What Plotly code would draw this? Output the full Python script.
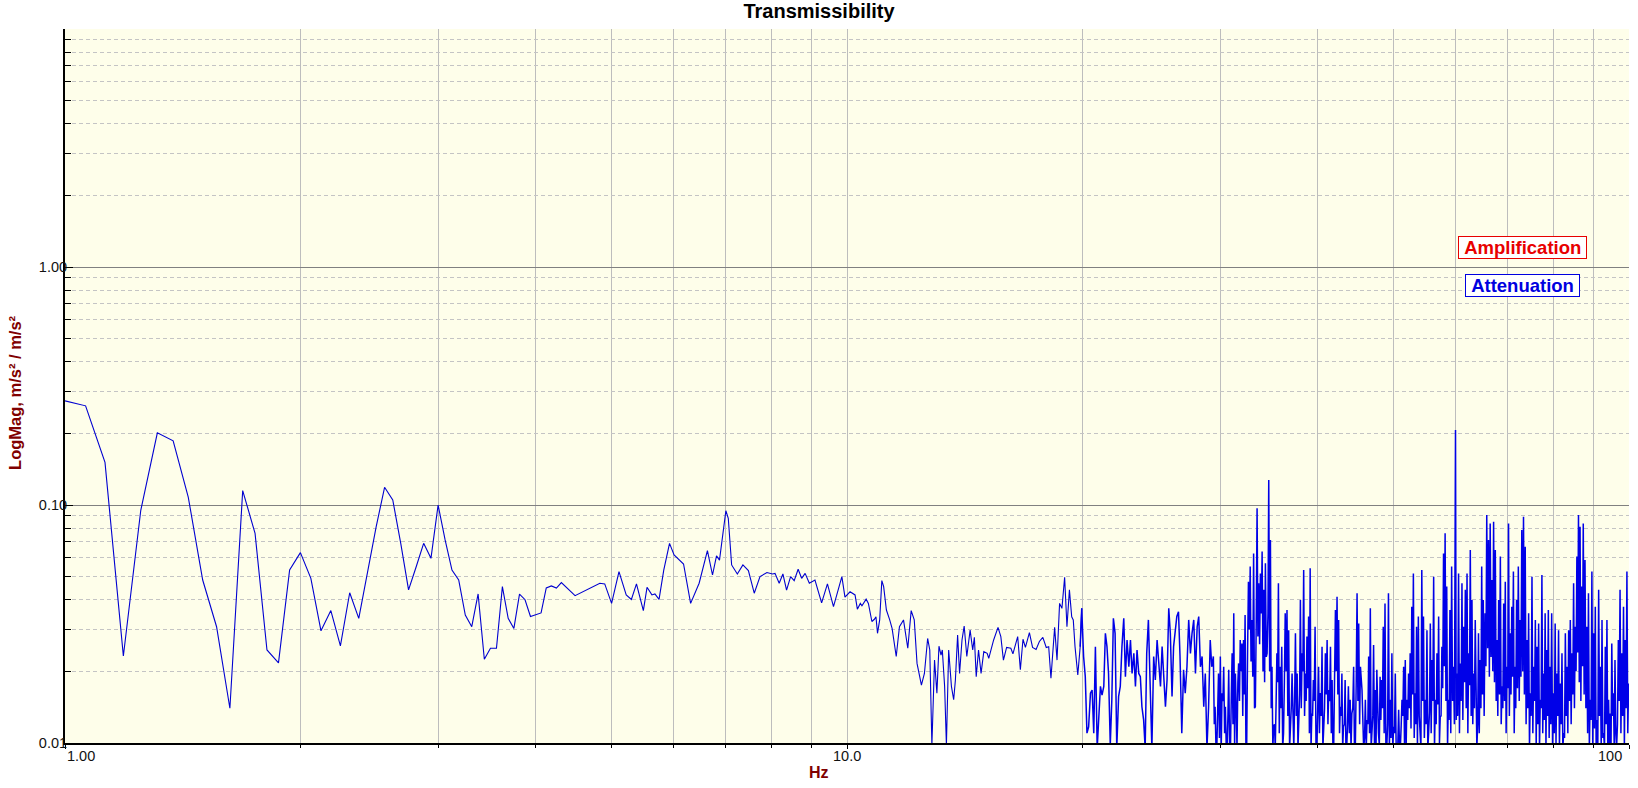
import plotly.graph_objects as go

# ---------------- data ----------------
# 1 - 4.3 Hz, FFT bins of 0.0625 Hz
freq_a = [1.0, 1.0625, 1.125, 1.1875, 1.25, 1.3125, 1.375, 1.4375, 1.5, 1.5625,
          1.625, 1.6875, 1.75, 1.8125, 1.875, 1.9375, 2.0, 2.0625, 2.125, 2.1875,
          2.25, 2.3125, 2.375, 2.4375, 2.5, 2.5625, 2.625, 2.6875, 2.75, 2.8125,
          2.875, 2.9375, 3.0, 3.0625, 3.125, 3.1875, 3.25, 3.3125, 3.375, 3.4375,
          3.5, 3.5625, 3.625, 3.6875, 3.75, 3.8125, 3.875, 3.9375, 4.0, 4.0625,
          4.125, 4.1875, 4.25, 4.3125]
mag_a = [0.274, 0.261, 0.151, 0.0232, 0.095, 0.201, 0.186, 0.108, 0.0484, 0.0308,
         0.0140, 0.115, 0.076, 0.0246, 0.0217, 0.0533, 0.0631, 0.0492, 0.0296, 0.0360,
         0.0256, 0.0428, 0.0334, 0.0533, 0.0811, 0.1187, 0.105, 0.069, 0.044, 0.055,
         0.069, 0.0597, 0.100, 0.0713, 0.0533, 0.0484, 0.0345, 0.0308, 0.0423, 0.0225,
         0.025, 0.025, 0.0454, 0.0334, 0.0303, 0.0422, 0.040, 0.034, 0.0347, 0.0352,
         0.0448, 0.0457, 0.0448, 0.0472]

# 4.3 - 10.3 Hz
freq_b = [4.49, 4.83, 4.90, 4.95, 5.0, 5.11, 5.22, 5.30, 5.38, 5.49,
          5.55, 5.63, 5.68, 5.75, 5.83, 5.93, 6.01, 6.18, 6.31, 6.47,
          6.63, 6.73, 6.81, 6.87, 6.91, 7.0, 7.05, 7.12, 7.24, 7.36,
          7.48, 7.61, 7.74, 7.90, 8.03, 8.09, 8.19, 8.28, 8.37, 8.47,
          8.56, 8.66, 8.75, 8.84, 8.95, 9.10, 9.28, 9.44, 9.61, 9.72,
          9.85, 9.94, 10.09, 10.24, 10.31]
mag_b = [0.0416, 0.0469, 0.0466, 0.0425, 0.0386, 0.0525, 0.0419, 0.0401, 0.0466, 0.0360,
         0.0451, 0.0419, 0.0423, 0.0401, 0.0533, 0.0690, 0.0617, 0.0565, 0.0386, 0.0469,
         0.0643, 0.0508, 0.0611, 0.0587, 0.0690, 0.0946, 0.0879, 0.0560, 0.0513, 0.0560,
         0.0530, 0.0426, 0.0500, 0.0520, 0.0513, 0.0516, 0.0469, 0.0513, 0.0439, 0.0500,
         0.0481, 0.0537, 0.0492, 0.0516, 0.0469, 0.0484, 0.0388, 0.0466, 0.0374, 0.0425,
         0.0500, 0.0410, 0.0432, 0.0419, 0.0365]

# 10.4 - 19.9 Hz
freq_c = [10.40, 10.45, 10.58, 10.65, 10.76, 10.84, 10.89, 10.94, 11.01, 11.08,
          11.14, 11.23, 11.34, 11.42, 11.56, 11.67, 11.81, 11.96, 12.08, 12.19,
          12.29, 12.45, 12.56, 12.68, 12.76, 12.84, 12.94, 13.03, 13.11, 13.19,
          13.24, 13.33, 13.40, 13.49, 13.60, 13.69, 13.76, 13.85, 13.93, 14.03,
          14.12, 14.23, 14.37, 14.48, 14.55, 14.63, 14.73, 14.84, 14.96, 15.11,
          15.18, 15.40, 15.60, 15.73, 15.85, 16.00, 16.20, 16.30, 16.53, 16.66,
          16.79, 16.91, 17.11, 17.27, 17.45, 17.62, 17.80, 17.98, 18.11, 18.23,
          18.43, 18.56, 18.70, 18.83, 18.98, 19.11, 19.25, 19.38, 19.47, 19.57,
          19.73, 19.87]
mag_c = [0.0386, 0.0377, 0.0402, 0.0386, 0.0324, 0.0331, 0.0339, 0.0289, 0.0329, 0.0481,
         0.0454, 0.0362, 0.0329, 0.0303, 0.0231, 0.0308, 0.0329, 0.0250, 0.0360, 0.0329,
         0.0216, 0.0175, 0.0196, 0.0275, 0.0246, 0.0098, 0.0223, 0.0162, 0.0255, 0.0234,
         0.0246, 0.0173, 0.0098, 0.0246, 0.0173, 0.0152, 0.0184, 0.0284, 0.0196, 0.0271,
         0.0310, 0.0231, 0.0298, 0.0246, 0.0278, 0.0190, 0.0246, 0.0196, 0.0242, 0.0238,
         0.0227, 0.0271, 0.0306, 0.0280, 0.0223, 0.0252, 0.0250, 0.0237, 0.0280, 0.0203,
         0.0273, 0.0252, 0.0291, 0.0252, 0.0247, 0.0267, 0.0278, 0.0252, 0.0254, 0.0187,
         0.0306, 0.0223, 0.0386, 0.0368, 0.0497, 0.0308, 0.0440, 0.0339, 0.0329, 0.0254,
         0.0193, 0.0254]

# 20 - 45 Hz, strokes
freq_d = [19.96, 20.07, 20.17, 20.27, 20.37, 20.48, 20.58, 20.68, 20.78, 20.89,
          20.99, 21.09, 21.19, 21.30, 21.40, 21.50, 21.60, 21.71, 21.81, 21.91,
          22.02, 22.13, 22.25, 22.36, 22.47, 22.59, 22.70, 22.81, 22.93, 23.04,
          23.15, 23.27, 23.38, 23.49, 23.61, 23.72, 23.83, 23.95, 24.06, 24.17,
          24.29, 24.42, 24.54, 24.67, 24.79, 24.92, 25.04, 25.17, 25.29, 25.42,
          25.54, 25.66, 25.79, 25.91, 26.04, 26.16, 26.29, 26.41, 26.54, 26.66,
          26.80, 26.94, 27.07, 27.21, 27.35, 27.49, 27.62, 27.76, 27.90, 28.04,
          28.17, 28.31, 28.45, 28.59, 28.72, 28.86, 29.00, 29.14, 29.27, 29.41,
          29.56, 29.71, 29.86, 30.02, 30.17, 30.32, 30.47, 30.62, 30.77, 30.93,
          31.08, 31.23, 31.38, 31.53, 31.68, 31.83, 31.99, 32.14, 32.29, 32.44,
          32.61, 32.78, 32.94, 33.11, 33.28, 33.45, 33.61, 33.78, 33.95, 34.12,
          34.28, 34.45, 34.62, 34.79, 34.95, 35.12, 35.29, 35.46, 35.62, 35.79,
          35.97, 36.16, 36.34, 36.53, 36.71, 36.90, 37.08, 37.27, 37.45, 37.64,
          37.82, 38.00, 38.19, 38.37, 38.56, 38.74, 38.93, 39.11, 39.30, 39.48,
          39.68, 39.89, 40.09, 40.29, 40.50, 40.70, 40.90, 41.11, 41.31, 41.52,
          41.72, 41.92, 42.13, 42.33, 42.53, 42.74, 42.94, 43.14, 43.35, 43.55,
          43.77, 44.00, 44.22, 44.45, 44.67, 44.90, 45.12, 45.35]
mag_d = [0.0368, 0.0231, 0.0190, 0.0110, 0.0117, 0.0162, 0.0167, 0.0110, 0.0254, 0.0095,
         0.0129, 0.0173, 0.0159, 0.0173, 0.0289, 0.0254, 0.0196, 0.0098, 0.0152, 0.0334,
         0.0289, 0.0095, 0.0157, 0.0173, 0.0254, 0.0334, 0.0190, 0.0271, 0.0209, 0.0271,
         0.0196, 0.0238, 0.0173, 0.0246, 0.0196, 0.0190, 0.0142, 0.0125, 0.0095, 0.0238,
         0.0329, 0.0184, 0.0095, 0.0231, 0.0184, 0.0271, 0.0209, 0.0173, 0.0254, 0.0196,
         0.0142, 0.0184, 0.0368, 0.0289, 0.0157, 0.0254, 0.0298, 0.0340, 0.0356, 0.0231,
         0.0110, 0.0203, 0.0162, 0.0209, 0.0329, 0.0238, 0.0289, 0.0329, 0.0196, 0.0308,
         0.0340, 0.0209, 0.0231, 0.0142, 0.0196, 0.0095, 0.0142, 0.0271, 0.0209, 0.0231,
         0.0142, 0.0095, 0.0196, 0.0231, 0.0162, 0.0209, 0.0142, 0.0095, 0.0203, 0.0095,
         0.0238, 0.0351, 0.0196, 0.0095, 0.0216, 0.0271, 0.0262, 0.0271, 0.0345, 0.0095,
         0.0476, 0.0551, 0.0329, 0.0626, 0.0142, 0.0968, 0.0469, 0.0516, 0.0637, 0.0440,
         0.0569, 0.0238, 0.1274, 0.0713, 0.0209, 0.0117, 0.0095, 0.0238, 0.0469, 0.0209,
         0.0254, 0.0110, 0.0351, 0.0362, 0.0298, 0.0110, 0.0196, 0.0095, 0.0289, 0.0196,
         0.0114, 0.0399, 0.0238, 0.0533, 0.0196, 0.0280, 0.0340, 0.0542, 0.0133, 0.0184,
         0.0308, 0.0095, 0.0209, 0.0162, 0.0254, 0.0110, 0.0238, 0.0271, 0.0167, 0.0254,
         0.0184, 0.0098, 0.0362, 0.0412, 0.0329, 0.0142, 0.0196, 0.0117, 0.0184, 0.0095,
         0.0173, 0.0152, 0.0133, 0.0209, 0.0095, 0.0426, 0.0318, 0.0209]

# 29.5 - 45 Hz, band bottoms between the strokes above
freq_d_low = [29.49, 29.64, 29.79, 29.94, 30.10, 30.25, 30.40, 30.55, 30.70, 30.85,
              31.01, 31.16, 31.31, 31.46, 31.61, 31.76, 31.91, 32.07, 32.22, 32.37,
              32.53, 32.70, 32.86, 33.03, 33.20, 33.37, 33.53, 33.70, 33.87, 34.04,
              34.20, 34.37, 34.54, 34.71, 34.87, 35.04, 35.21, 35.38, 35.54, 35.71,
              35.88, 36.07, 36.25, 36.44, 36.62, 36.81, 36.99, 37.18, 37.36, 37.55,
              37.73, 37.91, 38.10, 38.28, 38.47, 38.65, 38.84, 39.02, 39.21, 39.39,
              39.58, 39.79, 39.99, 40.19, 40.40, 40.60, 40.80, 41.01, 41.21, 41.42,
              41.62, 41.82, 42.03, 42.23, 42.43, 42.64, 42.84, 43.04, 43.25, 43.45,
              43.66, 43.89, 44.11, 44.34, 44.56, 44.79, 45.01, 45.24]
mag_d_low = [0.0120, 0.0095, 0.0140, 0.0105, 0.0095, 0.0150, 0.0110, 0.0095, 0.0130, 0.0095,
             0.0160, 0.0120, 0.0095, 0.0140, 0.0180, 0.0150, 0.0200, 0.0130, 0.0160, 0.0095,
             0.0250, 0.0300, 0.0220, 0.0190, 0.0140, 0.0330, 0.0280, 0.0260, 0.0350, 0.0200,
             0.0180, 0.0230, 0.0350, 0.0200, 0.0140, 0.0095, 0.0120, 0.0150, 0.0180, 0.0110,
             0.0140, 0.0095, 0.0180, 0.0200, 0.0130, 0.0095, 0.0140, 0.0110, 0.0150, 0.0130,
             0.0095, 0.0160, 0.0140, 0.0200, 0.0130, 0.0150, 0.0170, 0.0110, 0.0095, 0.0130,
             0.0150, 0.0095, 0.0140, 0.0110, 0.0130, 0.0095, 0.0140, 0.0160, 0.0120, 0.0150,
             0.0110, 0.0095, 0.0180, 0.0200, 0.0160, 0.0110, 0.0130, 0.0095, 0.0120, 0.0095,
             0.0120, 0.0110, 0.0095, 0.0140, 0.0095, 0.0180, 0.0150, 0.0120]

# 45 - 100 Hz, band tops/strokes
freq_e = [45.56, 45.78, 46.01, 46.24, 46.46, 46.69, 46.91, 47.14, 47.37, 47.59,
          47.82, 48.05, 48.27, 48.50,
          48.75, 49.00, 49.25, 49.50, 49.75, 50.00, 50.25, 50.50, 50.75, 51.00,
          51.25, 51.50, 51.75, 52.00, 52.25, 52.50, 52.75, 53.00, 53.25, 53.50,
          53.78, 54.05, 54.33, 54.60, 54.88, 55.16, 55.43, 55.71, 55.98, 56.26,
          56.54, 56.81, 57.09, 57.36, 57.64, 57.92, 58.19, 58.47, 58.74, 59.02,
          59.32, 59.63, 60.00, 60.24, 60.54, 60.85, 61.15, 61.46, 61.76, 62.07,
          62.37, 62.67, 62.98, 63.28, 63.59, 63.89, 64.20, 64.50, 64.81, 65.11,
          65.45, 65.78, 66.12, 66.45, 66.79, 67.12, 67.46, 67.79, 68.13, 68.47,
          68.80, 69.14, 69.47, 69.81, 70.14, 70.48, 70.81, 71.15, 71.48, 71.82,
          72.19, 72.56, 72.93, 73.30, 73.67, 74.04, 74.41, 74.78, 75.15, 75.53,
          75.90, 76.27, 76.64, 77.01, 77.38, 77.75, 78.12, 78.49, 78.86, 79.23,
          79.64, 80.05, 80.46, 80.86, 81.27, 81.68, 82.09, 82.50, 82.91, 83.32,
          83.72, 84.13, 84.54, 84.95, 85.36, 85.77, 86.18, 86.58, 86.99, 87.40,
          87.85, 88.30, 88.75, 89.20, 89.65, 90.10, 90.55, 91.00, 91.45, 91.91,
          92.36, 92.81, 93.26, 93.71, 94.16, 94.61, 95.06, 95.51, 95.96, 96.41,
          96.91, 97.40, 97.90, 98.40, 98.90, 99.39, 99.89]
mag_e = [0.0167, 0.0095, 0.0152, 0.0125, 0.0231, 0.0368, 0.0110, 0.0258, 0.0167, 0.0203,
         0.0110, 0.0190, 0.0184, 0.0308,
         0.0386, 0.0095, 0.0426, 0.0152, 0.0238, 0.0117, 0.0196, 0.0095, 0.0138, 0.0095,
         0.0152, 0.0209, 0.0223, 0.0152, 0.0196, 0.0238, 0.0374, 0.0516, 0.0162, 0.0308,
         0.0340, 0.0110, 0.0533, 0.0340, 0.0152, 0.0298, 0.0110, 0.0318, 0.0223, 0.0500,
         0.0152, 0.0238, 0.0340, 0.0129, 0.0254, 0.0626, 0.0760, 0.0454, 0.0152, 0.0362,
         0.0551, 0.0209, 0.2065, 0.0196, 0.0516, 0.0216, 0.0469, 0.0308, 0.0440, 0.0516,
         0.0238, 0.0647, 0.0399, 0.0196, 0.0329, 0.0095, 0.0289, 0.0223, 0.0551, 0.0399,
         0.0351, 0.0908, 0.0713, 0.0837, 0.0484, 0.0851, 0.0647, 0.0271, 0.0399, 0.0607,
         0.0173, 0.0386, 0.0476, 0.0209, 0.0837, 0.0289, 0.0374, 0.0525, 0.0209, 0.0399,
         0.0551, 0.0329, 0.0785, 0.0893, 0.0668, 0.0271, 0.0351, 0.0162, 0.0500, 0.0209,
         0.0329, 0.0254, 0.0318, 0.0152, 0.0508, 0.0196, 0.0351, 0.0246, 0.0362, 0.0209,
         0.0351, 0.0162, 0.0318, 0.0196, 0.0298, 0.0178, 0.0238, 0.0110, 0.0289, 0.0209,
         0.0298, 0.0329, 0.0238, 0.0469, 0.0308, 0.0607, 0.0908, 0.0811, 0.0454, 0.0837,
         0.0587, 0.0308, 0.0426, 0.0152, 0.0525, 0.0289, 0.0374, 0.0125, 0.0440, 0.0209,
         0.0329, 0.0110, 0.0254, 0.0329, 0.0152, 0.0133, 0.0262, 0.0162, 0.0223, 0.0095,
         0.0271, 0.0440, 0.0238, 0.0374, 0.0271, 0.0525, 0.0178]

# 45 - 100 Hz, band bottoms between the strokes above
freq_e_low = [45.67, 45.90, 46.13, 46.35, 46.58, 46.80, 47.03, 47.26, 47.48, 47.71,
              47.94, 48.16, 48.39, 48.63,
              48.88, 49.13, 49.38, 49.63, 49.88, 50.13, 50.38, 50.63, 50.88, 51.13,
              51.38, 51.63, 51.88, 52.13, 52.38, 52.63, 52.88, 53.13, 53.38, 53.64,
              53.92, 54.19, 54.47, 54.74, 55.02, 55.30, 55.57, 55.85, 56.12, 56.40,
              56.68, 56.95, 57.23, 57.50, 57.78, 58.06, 58.33, 58.61, 58.88, 59.17,
              59.48, 59.80, 60.12, 60.39, 60.70, 61.00, 61.31, 61.61, 61.92, 62.22,
              62.52, 62.83, 63.13, 63.44, 63.74, 64.05, 64.35, 64.66, 64.96, 65.28,
              65.62, 65.95, 66.29, 66.62, 66.96, 67.29, 67.63, 67.96, 68.30, 68.64,
              68.97, 69.31, 69.64, 69.98, 70.31, 70.65, 70.98, 71.32, 71.65, 72.01,
              72.38, 72.75, 73.12, 73.49, 73.86, 74.23, 74.60, 74.97, 75.34, 75.72,
              76.09, 76.46, 76.83, 77.20, 77.57, 77.94, 78.31, 78.68, 79.05, 79.44,
              79.85, 80.26, 80.66, 81.07, 81.48, 81.89, 82.30, 82.71, 83.12, 83.52,
              83.93, 84.34, 84.75, 85.16, 85.57, 85.98, 86.38, 86.79, 87.20, 87.63,
              88.08, 88.53, 88.98, 89.43, 89.88, 90.33, 90.78, 91.23, 91.68, 92.14,
              92.59, 93.04, 93.49, 93.94, 94.39, 94.84, 95.29, 95.74, 96.19, 96.66,
              97.16, 97.65, 98.15, 98.65, 99.15, 99.64]
mag_e_low = [0.0098, 0.0105, 0.0095, 0.0120, 0.0110, 0.0095, 0.0130, 0.0100, 0.0095, 0.0115,
             0.0098, 0.0125, 0.0140, 0.0110,
             0.0095, 0.0120, 0.0095, 0.0105, 0.0095, 0.0110, 0.0095, 0.0100, 0.0095, 0.0118,
             0.0130, 0.0100, 0.0095, 0.0125, 0.0140, 0.0115, 0.0160, 0.0105, 0.0120, 0.0095,
             0.0130, 0.0095, 0.0150, 0.0105, 0.0120, 0.0095, 0.0135, 0.0110, 0.0150, 0.0095,
             0.0120, 0.0145, 0.0100, 0.0130, 0.0170, 0.0210, 0.0150, 0.0095, 0.0125, 0.0110,
             0.0150, 0.0120, 0.0125, 0.0130, 0.0110, 0.0150, 0.0125, 0.0180, 0.0140, 0.0110,
             0.0175, 0.0130, 0.0120, 0.0140, 0.0095, 0.0120, 0.0110, 0.0140, 0.0160, 0.0130,
             0.0210, 0.0250, 0.0190, 0.0230, 0.0200, 0.0180, 0.0150, 0.0130, 0.0160, 0.0120,
             0.0140, 0.0150, 0.0110, 0.0170, 0.0130, 0.0160, 0.0190, 0.0110, 0.0140, 0.0170,
             0.0150, 0.0190, 0.0200, 0.0160, 0.0120, 0.0140, 0.0095, 0.0130, 0.0110, 0.0150,
             0.0095, 0.0120, 0.0095, 0.0140, 0.0110, 0.0125, 0.0095, 0.0130, 0.0105, 0.0120,
             0.0095, 0.0110, 0.0100, 0.0130, 0.0095, 0.0120, 0.0095, 0.0105, 0.0130, 0.0110,
             0.0150, 0.0120, 0.0160, 0.0140, 0.0200, 0.0240, 0.0180, 0.0150, 0.0210, 0.0160,
             0.0140, 0.0110, 0.0095, 0.0125, 0.0095, 0.0115, 0.0095, 0.0100, 0.0130, 0.0095,
             0.0105, 0.0095, 0.0120, 0.0095, 0.0100, 0.0095, 0.0130, 0.0095, 0.0110, 0.0120,
             0.0150, 0.0110, 0.0130, 0.0095, 0.0140, 0.0110]

# axis ticks
x_major = [1, 10, 100]
x_major_text = ["1.00", "10.0", "100"]
x_minor = [2, 3, 4, 5, 6, 7, 8, 9, 20, 30, 40, 50, 60, 70, 80, 90]
y_major = [0.01, 0.1, 1.0]
y_major_text = ["0.01", "0.10", "1.00"]
y_minor = [0.02, 0.03, 0.04, 0.05, 0.06, 0.07, 0.08, 0.09,
           0.2, 0.3, 0.4, 0.5, 0.6, 0.7, 0.8, 0.9,
           2, 3, 4, 5, 6, 7, 8, 9]

title_text = "Transmissibility"
x_title = "Hz"
y_title = "LogMag, m/s² / m/s²"

# ---------------- figure ----------------
# low / mid frequency part: one clean line
freq_lo = freq_a + freq_b + freq_c + freq_d[:1]
mag_lo = mag_a + mag_b + mag_c + mag_d[:1]
# high frequency part: dense band (strokes and band bottoms merged in frequency order)
hi = sorted(zip(freq_d + freq_d_low + freq_e + freq_e_low,
                mag_d + mag_d_low + mag_e + mag_e_low))
freq_hi = [freq_c[-1]] + [p[0] for p in hi]
mag_hi = [mag_c[-1]] + [p[1] for p in hi]

FONT = "Liberation Sans, Arial, sans-serif"
DARKRED = "#800000"
LINE = "#0000D0"

fig = go.Figure()
fig.add_trace(go.Scatter(x=freq_lo, y=mag_lo, mode="lines",
                         line=dict(color=LINE, width=1.1),
                         hoverinfo="skip", showlegend=False))
fig.add_trace(go.Scatter(x=freq_hi, y=mag_hi, mode="lines",
                         line=dict(color="#0000E8", width=1.5),
                         hoverinfo="skip", showlegend=False))

annotations = []
# x tick labels (first one left-aligned, last one right-aligned as in the original)
for pos, txt, anchor, shift in zip([0, 1, 2], x_major_text, ["left", "center", "right"], [0, 0, -5]):
    annotations.append(dict(x=pos, y=0, xref="x", yref="paper",
                            text=txt, showarrow=False, xanchor=anchor, yanchor="middle",
                            xshift=shift, yshift=-13,
                            font=dict(family=FONT, size=14.5, color="#111111")))
# axis titles
annotations.append(dict(x=0.4821, y=-0.042, xref="paper", yref="paper", text="<b>%s</b>" % x_title,
                        showarrow=False, xanchor="center", yanchor="middle",
                        font=dict(family=FONT, size=16, color=DARKRED)))
annotations.append(dict(x=-0.032, y=0.4916, xref="paper", yref="paper", text="<b>%s</b>" % y_title,
                        showarrow=False, xanchor="center", yanchor="middle", textangle=-90,
                        font=dict(family=FONT, size=16.5, color=DARKRED)))
# region labels
annotations.append(dict(x=0.9316, y=0, xref="paper", yref="y",
                        text="<b>\u00a0Amplification\u00a0</b>", showarrow=False,
                        xanchor="center", yanchor="bottom", yshift=8,
                        font=dict(family=FONT, size=18.5, color="#E80000"),
                        bgcolor="white", bordercolor="#E80000", borderwidth=1, borderpad=0))
annotations.append(dict(x=0.9322, y=0, xref="paper", yref="y",
                        text="<b>\u00a0Attenuation\u00a0</b>", showarrow=False,
                        xanchor="center", yanchor="top", yshift=-7,
                        font=dict(family=FONT, size=18.5, color="#0000E0"),
                        bgcolor="white", bordercolor="#0000E0", borderwidth=1, borderpad=0))

fig.update_layout(
    width=1638, height=788,
    margin=dict(l=65, r=9, t=29, b=45),
    paper_bgcolor="white", plot_bgcolor="#FEFEEA",
    title=dict(text="<b>%s</b>" % title_text, x=0.5, xref="container", xanchor="center",
               y=1 - 10.5 / 788, yref="container", yanchor="middle",
               font=dict(family=FONT, size=20, color="black")),
    xaxis=dict(type="log", range=[0, 2], showline=True, linecolor="black", linewidth=2,
               mirror=False, zeroline=False,
               tickmode="array", tickvals=x_major, ticktext=x_major_text, showticklabels=False,
               ticks="outside", ticklen=4, tickcolor="black",
               showgrid=True, gridcolor="#BDBDBD", gridwidth=1,
               minor=dict(tickmode="array", tickvals=x_minor, showgrid=True,
                          gridcolor="#BDBDBD", gridwidth=1,
                          ticks="outside", ticklen=3, tickcolor="black")),
    yaxis=dict(type="log", range=[-2, 1], showline=True, linecolor="black", linewidth=2,
               mirror=False, zeroline=False,
               tickmode="array", tickvals=y_major, ticktext=y_major_text,
               ticks="inside", ticklen=8, tickcolor="black", ticklabelstandoff=-7,
               tickfont=dict(family=FONT, size=14.5, color="#111111"),
               showgrid=True, gridcolor="#808080", gridwidth=1,
               minor=dict(tickmode="array", tickvals=y_minor, showgrid=True,
                          gridcolor="#C4C4C4", gridwidth=1, griddash="4px,3px",
                          ticks="inside", ticklen=6, tickcolor="black")),
    annotations=annotations,
    font=dict(family=FONT),
)

# remove the browser's default 8px page margin so the figure sits at the window origin
fig.write_html("out.html",
               config={"displayModeBar": False},
               post_script="document.body.style.margin='0px';document.body.style.overflow='hidden';")
